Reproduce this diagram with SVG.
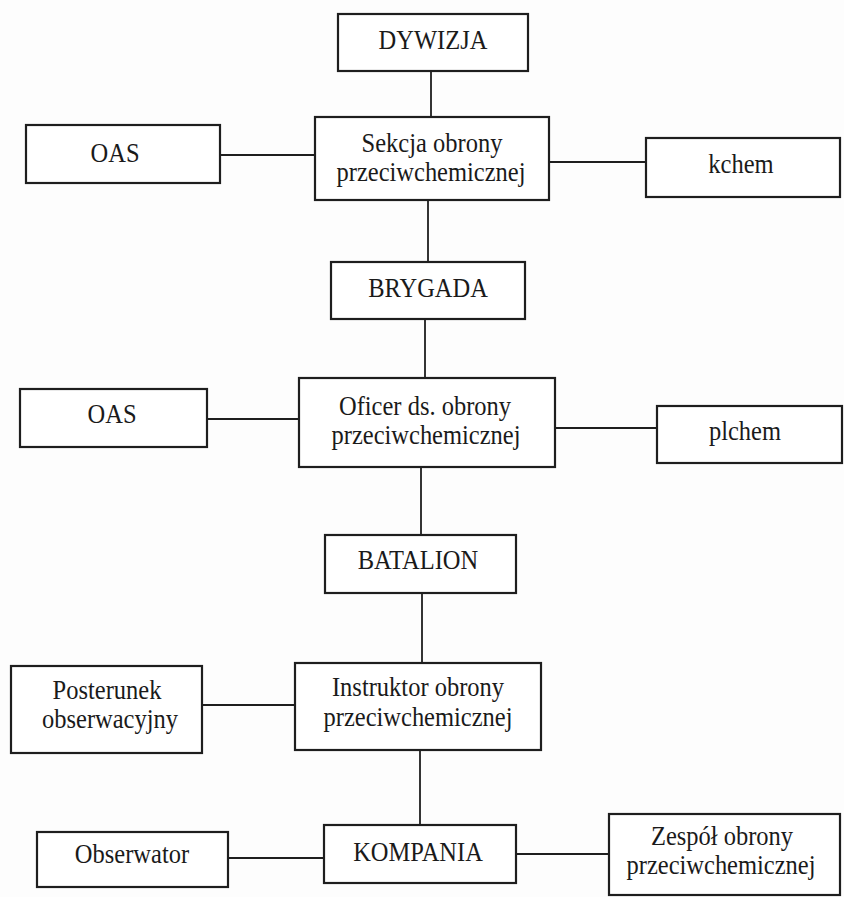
<svg xmlns="http://www.w3.org/2000/svg" width="844" height="897" viewBox="0 0 844 897">
<style>
.box{fill:#fff;stroke:#1e1e1e;stroke-width:2.2}
.t{font-family:"Liberation Serif","Times New Roman",serif;font-size:24.5px;fill:#1a1a1a;text-anchor:middle}
.c{stroke:#1e1e1e;stroke-width:1.8;fill:none}
</style>
<rect width="844" height="897" fill="#fdfdfd"/>
<g id="connectors">
<line class="c" x1="431" y1="71" x2="431" y2="117"/>
<line class="c" x1="220" y1="155" x2="315" y2="155"/>
<line class="c" x1="549" y1="162" x2="646" y2="162"/>
<line class="c" x1="428" y1="200" x2="428" y2="262"/>
<line class="c" x1="425" y1="319" x2="425" y2="378"/>
<line class="c" x1="207" y1="419" x2="299" y2="419"/>
<line class="c" x1="555" y1="428" x2="657" y2="428"/>
<line class="c" x1="421" y1="467" x2="421" y2="535"/>
<line class="c" x1="422" y1="593" x2="422" y2="663"/>
<line class="c" x1="202" y1="705" x2="295" y2="705"/>
<line class="c" x1="420" y1="750" x2="420" y2="825"/>
<line class="c" x1="228" y1="858" x2="324" y2="858"/>
<line class="c" x1="516" y1="854" x2="609" y2="854"/>
</g>
<g id="dywizja"><rect class="box" x="338" y="14" width="190" height="57"/><text class="t" transform="translate(433 49) scale(1 1.15)">DYWIZJA</text></g>
<g id="sekcja"><rect class="box" x="315" y="117" width="234" height="83"/><text class="t" transform="translate(432 152) scale(1 1.15)">Sekcja obrony</text><text class="t" transform="translate(431 181) scale(1 1.15)">przeciwchemicznej</text></g>
<g id="oas1"><rect class="box" x="26" y="125" width="194" height="58"/><text class="t" transform="translate(115 162) scale(1 1.15)">OAS</text></g>
<g id="kchem"><rect class="box" x="646" y="138" width="194" height="59"/><text class="t" transform="translate(741 173) scale(1 1.15)">kchem</text></g>
<g id="brygada"><rect class="box" x="331" y="262" width="194" height="57"/><text class="t" transform="translate(428 297) scale(1 1.15)">BRYGADA</text></g>
<g id="oficer"><rect class="box" x="299" y="378" width="256" height="89"/><text class="t" transform="translate(425 415) scale(1 1.15)">Oficer ds. obrony</text><text class="t" transform="translate(426 444) scale(1 1.15)">przeciwchemicznej</text></g>
<g id="oas2"><rect class="box" x="20" y="389" width="187" height="58"/><text class="t" transform="translate(112 423) scale(1 1.15)">OAS</text></g>
<g id="plchem"><rect class="box" x="657" y="406" width="185" height="57"/><text class="t" transform="translate(745 440) scale(1 1.15)">plchem</text></g>
<g id="batalion"><rect class="box" x="325" y="535" width="191" height="58"/><text class="t" transform="translate(418 569) scale(1 1.15)">BATALION</text></g>
<g id="instruktor"><rect class="box" x="295" y="663" width="246" height="87"/><text class="t" transform="translate(418 696) scale(1 1.15)">Instruktor obrony</text><text class="t" transform="translate(418 726) scale(1 1.15)">przeciwchemicznej</text></g>
<g id="posterunek"><rect class="box" x="11" y="666" width="191" height="87"/><text class="t" transform="translate(107 699) scale(1 1.15)">Posterunek</text><text class="t" transform="translate(110 728) scale(1 1.15)">obserwacyjny</text></g>
<g id="kompania"><rect class="box" x="324" y="825" width="192" height="58"/><text class="t" transform="translate(418 861) scale(1 1.15)">KOMPANIA</text></g>
<g id="obserwator"><rect class="box" x="37" y="832" width="191" height="55"/><text class="t" transform="translate(132 863) scale(1 1.15)">Obserwator</text></g>
<g id="zespol"><rect class="box" x="609" y="814" width="231" height="81"/><text class="t" transform="translate(722 845) scale(1 1.15)">Zespół obrony</text><text class="t" transform="translate(721 874) scale(1 1.15)">przeciwchemicznej</text></g>
</svg>
